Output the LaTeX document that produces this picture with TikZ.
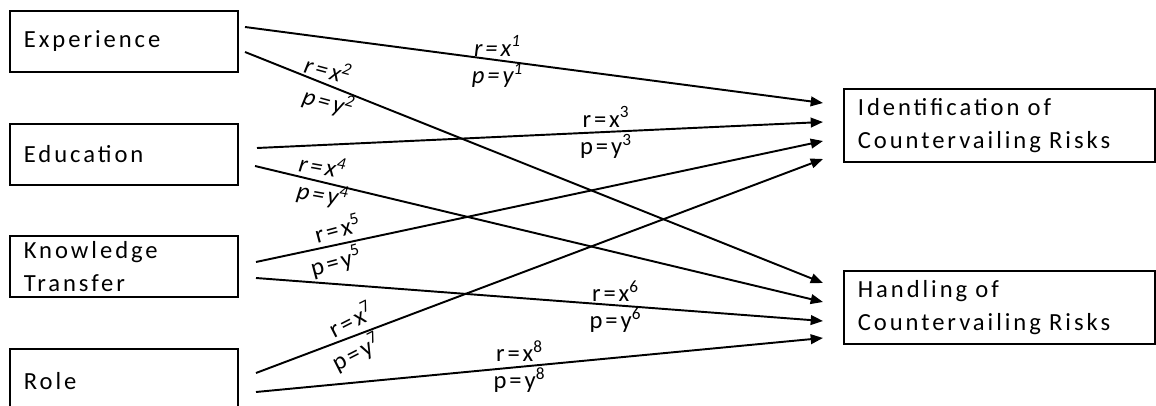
\documentclass[tikz,border=0pt]{standalone}
\usepackage{fontspec}
\setmainfont{Carlito}[LetterSpace=12]
\usetikzlibrary{arrows.meta}

% r and p of one path, lines shifted apart by #1
\newcommand{\coefpair}[2][0cm]{\hspace*{#1}r=x\textsuperscript{#2}\\\hspace*{-#1}p=y\textsuperscript{#2}}

\tikzset{
  factor/.style={draw,line width=1pt,anchor=north west,align=left,
    inner xsep=.28cm,inner ysep=0pt,font=\fontsize{14}{19}\selectfont},
  leftbox/.style={factor,text width=4.0cm,minimum height=1.22cm},
  rightbox/.style={factor,text width=5.66cm,minimum height=1.46cm},
  flow/.style={line width=1.1pt,-{Triangle[length=7pt,width=5.5pt]}},
  coef/.style={inner sep=0pt,align=center,font=\fontsize{14}{15.5}\selectfont},
  slcoef/.style={coef,font=\fontsize{14}{15.5}\selectfont\itshape},
  tilted/.style={coef,font=\fontsize{14}{17.5}\selectfont},
  sltilted/.style={coef,font=\fontsize{14}{17.5}\selectfont\itshape}
}

\begin{document}
\begin{tikzpicture}[x=1cm,y=1cm]
  \useasboundingbox (0,0) rectangle (23.12,-8.12);
  % boxes
  \node[leftbox] (exp) at (.18,-.20) {Experience};
  \node[leftbox] (edu) at (.18,-2.46) {Education};
  \node[leftbox] (know) at (.18,-4.70) {Knowledge\\Transfer};
  \node[leftbox,minimum height=1.30cm] (role) at (.18,-6.96) {Role};
  \node[rightbox] (ident) at (16.86,-1.76) {Identification of\\Countervailing Risks};
  \node[rightbox] (handl) at (16.86,-5.40) {Handling of\\Countervailing Risks};
  % arrow ends
  \coordinate (e1) at (4.90,-.54);
  \coordinate (e2) at (4.90,-1.04);
  \coordinate (d1) at (5.14,-2.96);
  \coordinate (d2) at (5.10,-3.32);
  \coordinate (k1) at (5.12,-5.24);
  \coordinate (k2) at (5.12,-5.56);
  \coordinate (r1) at (5.12,-7.46);
  \coordinate (r2) at (5.12,-7.84);
  \coordinate (i1) at (16.46,-2.06);
  \coordinate (i2) at (16.46,-2.44);
  \coordinate (i3) at (16.46,-2.82);
  \coordinate (i4) at (16.46,-3.18);
  \coordinate (h1) at (16.46,-5.66);
  \coordinate (h2) at (16.46,-6.04);
  \coordinate (h3) at (16.46,-6.42);
  \coordinate (h4) at (16.46,-6.76);
  \draw[flow] (e1)--(i1);
  \draw[flow] (e2)--(h1);
  \draw[flow] (d1)--(i2);
  \draw[flow] (d2)--(h2);
  \draw[flow] (k1)--(i3);
  \draw[flow] (k2)--(h3);
  \draw[flow] (r1)--(i4);
  \draw[flow] (r2)--(h4);
  % coefficients
  \node[slcoef] (c1) at (9.95,-1.23) {\coefpair{1}};
  \node[sltilted,rotate=-15] (c2) at (6.56,-1.73) {\coefpair[-.18cm]{2}};
  \node[coef] (c3) at (12.12,-2.65) {\coefpair{3}};
  \node[slcoef,rotate=-10] (c4) at (6.45,-3.62) {\coefpair[-.10cm]{4}};
  \node[tilted,rotate=15] (c5) at (6.74,-4.92) {\coefpair[.20cm]{5}};
  \node[coef] (c6) at (12.31,-6.13) {\coefpair{6}};
  \node[tilted,rotate=27] (c7) at (7.08,-6.74) {\coefpair[.20cm]{7}};
  \node[coef] (c8) at (10.39,-7.33) {\coefpair{8}};
\end{tikzpicture}
\end{document}
